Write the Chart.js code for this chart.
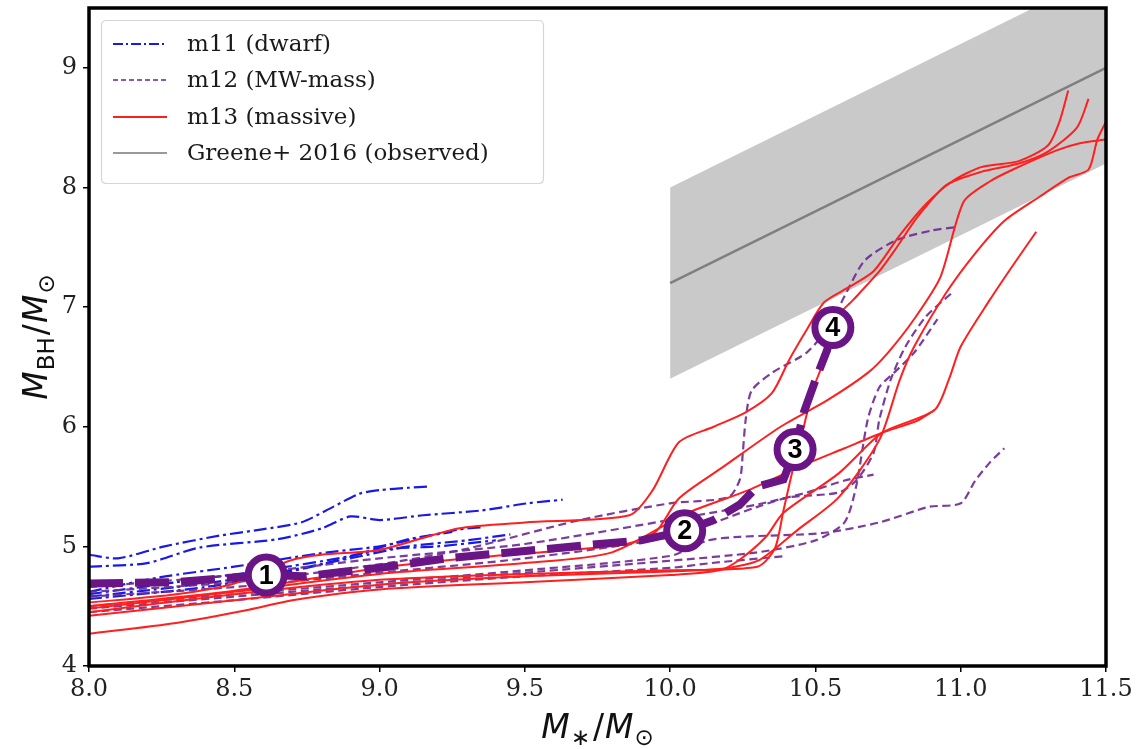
<!DOCTYPE html>
<html><head><meta charset="utf-8">
<script src="https://cdn.jsdelivr.net/npm/chart.js@4.4.0/dist/chart.umd.min.js"></script>
<style>html,body{margin:0;padding:0;background:#fff;}#wrap{width:1143px;height:749px;}</style>
</head><body><div id="wrap"><canvas id="c" width="1143" height="749"></canvas></div>
<script>
// ---------- DATA ----------
const xTicks = [8.0, 8.5, 9.0, 9.5, 10.0, 10.5, 11.0, 11.5];
const yTicks = [4, 5, 6, 7, 8, 9];
const seriesNames = ['m11 (dwarf)', 'm12 (MW-mass)', 'm13 (massive)', 'Greene+ 2016 (observed)'];

// m11 (dwarf) tracks  [log M*, log MBH]
const m11_a = [[8.0,4.93],[8.1,4.9],[8.26,5.0],[8.45,5.09],[8.59,5.14],[8.73,5.2],[8.84,5.33],[8.93,5.44],[9.0,5.47],[9.1,5.49],[9.17,5.5]];
const m11_b = [[8.0,4.83],[8.2,4.86],[8.38,4.99],[8.65,5.06],[8.8,5.15],[8.9,5.25],[9.0,5.22],[9.15,5.26],[9.35,5.3],[9.51,5.36],[9.63,5.39]];
const m11_c = [[8.0,4.62],[8.24,4.74],[8.5,4.83],[8.79,4.94],[9.0,5.0],[9.1,5.05],[9.27,5.14],[9.35,5.16]];
const m11_d = [[8.0,4.58],[8.3,4.66],[8.6,4.76],[8.9,4.9],[9.1,5.0],[9.3,5.05],[9.45,5.1]];
const m11_e = [[8.0,4.6],[8.3,4.7],[8.6,4.8],[8.9,4.92],[9.1,5.06],[9.25,5.12]];
const m11_f = [[8.0,4.56],[8.4,4.66],[8.75,4.82],[9.0,4.97],[9.2,5.0],[9.4,5.05]];

// m12 (MW-mass) tracks
const m12_a = [[8.0,4.5],[8.5,4.6],[9.0,4.7],[9.5,4.8],[10.0,4.92],[10.13,5.05],[10.24,5.08],[10.52,5.11],[10.72,5.2],[10.89,5.33],[11.0,5.36],[11.05,5.55],[11.1,5.7],[11.15,5.82]];
const m12_b = [[8.0,4.62],[8.5,4.7],[9.0,4.85],[9.3,4.98],[9.69,5.22],[10.0,5.36],[10.2,5.41],[10.24,5.56],[10.25,5.78],[10.26,6.06],[10.28,6.3],[10.35,6.45],[10.47,6.62],[10.55,6.85],[10.6,7.09],[10.67,7.39],[10.78,7.56],[10.9,7.64],[10.99,7.67]];
const m12_c = [[8.0,4.58],[8.5,4.66],[9.0,4.78],[9.5,4.9],[10.0,5.08],[10.3,5.33],[10.41,5.41],[10.58,5.45],[10.64,5.55],[10.7,5.78],[10.72,6.06],[10.76,6.4],[10.81,6.67],[10.88,6.92],[10.97,7.12]];
const m12_d = [[8.0,4.48],[8.5,4.58],[9.0,4.68],[9.5,4.78],[10.0,4.88],[10.3,4.95],[10.5,5.05],[10.6,5.2],[10.64,5.5],[10.68,6.06],[10.72,6.33],[10.77,6.45],[10.84,6.62],[10.92,6.9]];
const m12_e = [[8.0,4.45],[8.5,4.55],[9.0,4.66],[9.5,4.75],[10.0,4.82],[10.14,4.86],[10.4,4.92]];
const m12_f = [[8.0,4.66],[8.5,4.76],[9.0,4.9],[9.5,5.02],[10.14,5.28],[10.3,5.35],[10.47,5.45],[10.6,5.55],[10.7,5.6]];

// m13 (massive) tracks
const m13_a = [[8.0,4.53],[8.3,4.6],[8.5,4.69],[8.69,4.88],[8.8,4.93],[9.0,4.97],[9.27,5.15],[9.5,5.2],[9.86,5.26],[9.94,5.47],[10.03,5.87],[10.15,6.0],[10.26,6.12],[10.35,6.28],[10.41,6.56],[10.47,6.81],[10.53,7.04],[10.61,7.16],[10.7,7.3],[10.79,7.6],[10.88,7.86],[10.97,8.05],[11.07,8.17],[11.2,8.22],[11.3,8.35],[11.34,8.55],[11.37,8.81]];
const m13_b = [[8.0,4.5],[8.5,4.63],[9.0,4.82],[9.3,4.9],[9.6,4.96],[9.85,5.02],[9.95,5.12],[10.03,5.4],[10.18,5.66],[10.38,6.0],[10.54,6.22],[10.68,6.45],[10.75,6.62],[10.84,6.9],[10.93,7.25],[11.01,7.88],[11.1,8.05],[11.18,8.15],[11.33,8.31],[11.41,8.37],[11.5,8.4]];
const m13_c = [[8.0,4.45],[8.5,4.6],[9.0,4.72],[9.5,4.77],[10.0,4.8],[10.3,4.83],[10.36,4.98],[10.39,5.3],[10.42,5.62],[10.46,6.0],[10.49,6.3],[10.53,6.56],[10.56,6.88],[10.63,7.06],[10.72,7.3],[10.78,7.5],[10.85,7.75],[10.95,8.02],[11.07,8.13],[11.2,8.2],[11.3,8.3],[11.4,8.5],[11.44,8.74]];
const m13_d = [[8.0,4.42],[8.5,4.55],[9.0,4.68],[9.5,4.75],[10.0,4.79],[10.2,4.82],[10.31,4.89],[10.44,5.14],[10.58,5.41],[10.72,5.89],[10.79,6.39],[10.84,6.67],[10.95,7.12],[11.05,7.45],[11.15,7.72],[11.27,7.92],[11.37,8.08],[11.44,8.15],[11.47,8.4],[11.5,8.55]];
const m13_e = [[8.0,4.27],[8.3,4.36],[8.55,4.47],[8.7,4.55],[9.0,4.64],[9.5,4.7],[10.0,4.76],[10.17,4.8],[10.24,4.89],[10.33,5.08],[10.39,5.28],[10.58,5.61],[10.73,5.95],[10.91,6.14],[10.96,6.4],[11.0,6.67],[11.1,7.06],[11.18,7.35],[11.26,7.63]];
const m13_f = [[8.0,4.48],[8.5,4.62],[9.0,4.77],[9.5,4.86],[9.8,4.95],[10.06,5.28],[10.27,5.47],[10.44,5.66],[10.6,5.82],[10.73,5.95],[10.85,6.05],[10.91,6.14]];

// thick median m12 track and numbered stages
const medianX = [8.0,8.3,8.5,8.61,8.74,9.03,9.23,9.54,9.71,9.9,10.05,10.15,10.24,10.3,10.39,10.43,10.46,10.5,10.54,10.56];
const medianY = [4.69,4.7,4.74,4.76,4.75,4.83,4.9,4.97,5.01,5.05,5.13,5.22,5.35,5.5,5.56,5.81,6.12,6.39,6.64,6.83];
const stageX = [8.61, 10.05, 10.43, 10.56];
const stageY = [4.76, 5.13, 5.81, 6.83];
const stageLabels = ['1', '2', '3', '4'];

// Greene+ 2016 relation: centre and scatter band
const greeneX = [10.0, 11.5];
const greeneMid = [7.2, 9.0];
const greeneLow = [6.4, 8.2];
const greeneHigh = [8.0, 9.8];

// ---------- BUILD ----------
const toXY = a => a.map(p => ({x: p[0], y: p[1]}));
const zipXY = (xs, ys) => xs.map((x, i) => ({x: x, y: ys[i]}));

const BLUE = '#1a1ae8', PURPLE = 'rgba(112,44,146,0.92)', RED = '#ff1f1f', DARKP = '#6a1585';
const datasets = [];
datasets.push({data: zipXY(greeneX, greeneLow), borderWidth: 0, pointRadius: 0, order: 10, fill: false});
datasets.push({data: zipXY(greeneX, greeneHigh), borderWidth: 0, pointRadius: 0, order: 9,
  fill: '-1', backgroundColor: 'rgba(140,140,140,0.47)'});
datasets.push({data: zipXY(greeneX, greeneMid), borderColor: '#7f7f7f', borderWidth: 2.5, pointRadius: 0, order: 8});

[m11_a, m11_b, m11_c, m11_d, m11_e, m11_f].forEach(t => datasets.push({
  data: toXY(t), borderColor: BLUE, borderWidth: 2.2, borderDash: [13, 4, 3, 4], pointRadius: 0, tension: 0.25, order: 5}));
[m12_a, m12_b, m12_c, m12_d, m12_e, m12_f].forEach(t => datasets.push({
  data: toXY(t), borderColor: PURPLE, borderWidth: 2.2, borderDash: [8, 4.5], pointRadius: 0, tension: 0.25, order: 4}));
[m13_a, m13_b, m13_c, m13_d, m13_e, m13_f].forEach(t => datasets.push({
  data: toXY(t), borderColor: RED, borderWidth: 2, pointRadius: 0, tension: 0.25, order: 3}));
datasets.push({data: zipXY(medianX, medianY), borderColor: DARKP, borderWidth: 8, borderDash: [34, 12],
  borderCapStyle: 'butt', pointRadius: 0, tension: 0, order: 1});
datasets.push({data: zipXY(stageX, stageY), showLine: false, pointRadius: 18, pointBorderWidth: 7,
  pointBorderColor: DARKP, pointBackgroundColor: '#ffffff', order: 0});

// ---------- PLUGINS ----------
function measureMath(ctx, parts, size, subSize) {
  let w = 0;
  parts.forEach(p => {
    ctx.font = (p.it ? 'italic ' : '') + (p.sub ? subSize : size) + 'px "DejaVu Sans"';
    p.w = ctx.measureText(p.t).width; w += p.w + (p.gap || 0);
  });
  return w;
}
function renderMath(ctx, parts, size, subSize, cx, baseline) {
  const total = measureMath(ctx, parts, size, subSize);
  let x = cx - total / 2;
  parts.forEach(p => {
    ctx.font = (p.it ? 'italic ' : '') + (p.sub ? subSize : size) + 'px "DejaVu Sans"';
    ctx.fillText(p.t, x, baseline + (p.sub ? 7 : 0));
    x += p.w + (p.gap || 0);
  });
}

const decor = {
  id: 'decor',
  afterDatasetsDraw(chart) {
    const ctx = chart.ctx, xs = chart.scales.x, ys = chart.scales.y;
    ctx.save();
    ctx.fillStyle = '#000';
    ctx.font = 'bold 27px "Liberation Sans"';
    ctx.textAlign = 'center'; ctx.textBaseline = 'middle';
    stageLabels.forEach((l, i) => ctx.fillText(l, xs.getPixelForValue(stageX[i]), ys.getPixelForValue(stageY[i]) + 1));
    ctx.restore();
  },
  afterDraw(chart) {
    const ctx = chart.ctx, a = chart.chartArea;
    ctx.save();
    ctx.strokeStyle = '#000'; ctx.lineWidth = 3.5;
    ctx.strokeRect(a.left, a.top, a.right - a.left, a.bottom - a.top);
    // legend
    const bx = 101.5, by = 20.5, bw = 442, bh = 163, r = 5;
    ctx.beginPath();
    ctx.moveTo(bx + r, by); ctx.lineTo(bx + bw - r, by); ctx.quadraticCurveTo(bx + bw, by, bx + bw, by + r);
    ctx.lineTo(bx + bw, by + bh - r); ctx.quadraticCurveTo(bx + bw, by + bh, bx + bw - r, by + bh);
    ctx.lineTo(bx + r, by + bh); ctx.quadraticCurveTo(bx, by + bh, bx, by + bh - r);
    ctx.lineTo(bx, by + r); ctx.quadraticCurveTo(bx, by, bx + r, by); ctx.closePath();
    ctx.fillStyle = 'rgba(255,255,255,0.85)'; ctx.fill();
    ctx.strokeStyle = '#d6d6d6'; ctx.lineWidth = 1.2; ctx.stroke();
    const rows = [44, 80, 117, 153];
    const styles = [
      {c: BLUE, d: [10, 3, 2, 3], w: 2},
      {c: 'rgba(130,70,160,0.9)', d: [5, 3], w: 2},
      {c: RED, d: [], w: 2.2},
      {c: '#9a9a9a', d: [], w: 2.2}];
    rows.forEach((y, i) => {
      ctx.beginPath(); ctx.setLineDash(styles[i].d); ctx.strokeStyle = styles[i].c; ctx.lineWidth = styles[i].w;
      ctx.moveTo(113, y); ctx.lineTo(167, y); ctx.stroke();
      ctx.setLineDash([]);
      ctx.fillStyle = '#1a1a1a'; ctx.font = '23px "DejaVu Serif"'; ctx.textAlign = 'left'; ctx.textBaseline = 'middle';
      ctx.fillText(seriesNames[i], 187, y + 1);
    });
    // axis titles
    ctx.fillStyle = '#111'; ctx.textAlign = 'left'; ctx.textBaseline = 'alphabetic';
    renderMath(ctx, [{t: 'M', it: true, gap: 1}, {t: '∗', sub: true, gap: 3}, {t: '/', gap: 1}, {t: 'M', it: true, gap: 1}, {t: '⊙', sub: true}],
      33, 23, (a.left + a.right) / 2, 738);
    ctx.save();
    ctx.translate(47, (a.top + a.bottom) / 2);
    ctx.rotate(-Math.PI / 2);
    renderMath(ctx, [{t: 'M', it: true, gap: 1}, {t: 'BH', sub: true, gap: 2}, {t: '/', gap: 1}, {t: 'M', it: true, gap: 1}, {t: '⊙', sub: true}],
      33, 23, 0, 0);
    ctx.restore();
    ctx.restore();
  }
};

// ---------- CHART ----------
const tickFont = {family: '"DejaVu Serif"', size: 24};
function noPad(s) { s.paddingTop = 0; s.paddingBottom = 0; s.paddingLeft = 0; s.paddingRight = 0; }
new Chart(document.getElementById('c'), {
  type: 'line',
  data: {datasets: datasets},
  options: {
    responsive: false, devicePixelRatio: 1, animation: false, events: [],
    layout: {autoPadding: false, padding: {top: 8, right: 37, left: 0, bottom: 0}},
    plugins: {legend: {display: false}, tooltip: {enabled: false}},
    scales: {
      x: {type: 'linear', min: 8, max: 11.5,
        afterBuildTicks: s => { s.ticks = xTicks.map(v => ({value: v})); },
        afterFit: s => { s.height = 83; noPad(s); },
        border: {display: false},
        grid: {drawOnChartArea: false, drawTicks: true, tickLength: 6, color: '#000', lineWidth: 1.5},
        ticks: {font: tickFont, color: '#222', padding: 3, maxRotation: 0, autoSkip: false, callback: v => Number(v).toFixed(1)}},
      y: {type: 'linear', min: 4, max: 9.5,
        afterBuildTicks: s => { s.ticks = yTicks.map(v => ({value: v})); },
        afterFit: s => { s.width = 89; noPad(s); },
        border: {display: false},
        grid: {drawOnChartArea: false, drawTicks: true, tickLength: 6, color: '#000', lineWidth: 1.5},
        ticks: {font: tickFont, color: '#222', padding: 6, autoSkip: false, callback: v => String(v)}}
    }
  },
  plugins: [decor]
});
</script></body></html>
